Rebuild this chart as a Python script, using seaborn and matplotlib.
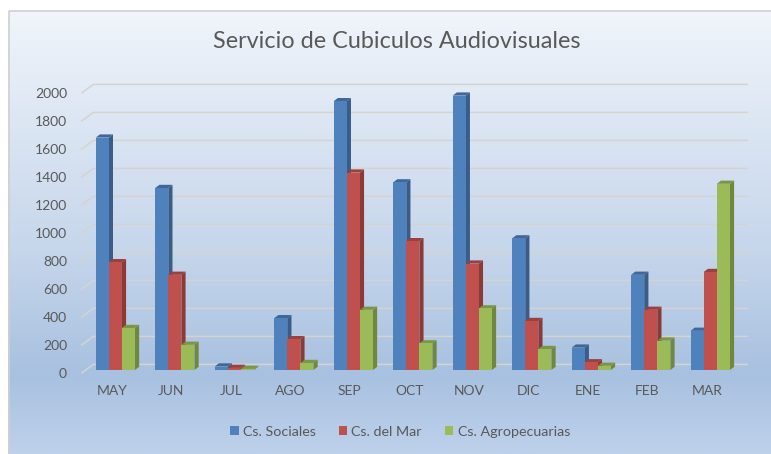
import numpy as np
import pandas as pd
import matplotlib
matplotlib.use("Agg")
import matplotlib.pyplot as plt
import seaborn as sns
from matplotlib.patches import Polygon, Rectangle
from matplotlib.lines import Line2D
from matplotlib.transforms import IdentityTransform, ScaledTranslation
from matplotlib.colors import to_rgb

# data
months = ["MAY", "JUN", "JUL", "AGO", "SEP", "OCT", "NOV", "DIC", "ENE", "FEB", "MAR"]
sociales = [1660, 1300, 25, 370, 1920, 1340, 1960, 940, 160, 680, 280]
del_mar = [770, 680, 15, 220, 1410, 920, 760, 350, 55, 430, 700]
agro = [300, 180, 8, 50, 430, 190, 440, 150, 30, 210, 1330]
series = ["Cs. Sociales", "Cs. del Mar", "Cs. Agropecuarias"]
colors = ["#4f81bd", "#c0504d", "#9bbb59"]
yticks = list(range(0, 2001, 200))

df = pd.DataFrame({
    "Mes": months * 3,
    "Valor": sociales + del_mar + agro,
    "Serie": [s for s in series for _ in months],
})

sns.set_style("white")
plt.rcParams['font.family'] = ['Lato', 'DejaVu Sans']
txt = "#595959"

W, H = 771, 454
fig = plt.figure(figsize=(W / 100, H / 100), dpi=100, facecolor="white")

# background gradient + border
bg = fig.add_axes([0, 0, 1, 1], zorder=-10)
bg.set_xlim(0, W)
bg.set_ylim(H, 0)
bg.axis("off")
stops_y = [10, 100, 250, 375, 454]
stops_c = np.array([(241, 245, 251), (224, 233, 245), (198, 214, 235),
                    (168, 193, 224), (190, 209, 235)]) / 255
ys = np.linspace(10, H, 300)
grad = np.stack([np.interp(ys, stops_y, stops_c[:, k]) for k in range(3)], axis=-1)
bg.imshow(grad[:, None, :], extent=(8, W, H, 10), aspect="auto", interpolation="bilinear")
bg.add_patch(Rectangle((8.5, 10.5), W, H, fill=False, edgecolor="#d0d0d0", lw=1.2))

# main plot (bar plane)
ax = fig.add_axes([85.6 / W, (H - 370) / H, (740 - 85.6) / W, 280 / H])
ax.patch.set_alpha(0)
sns.barplot(data=df, x="Mes", y="Valor", hue="Serie", order=months,
            hue_order=series, palette=colors, width=0.66, gap=0,
            saturation=1, linewidth=0, legend=False, ax=ax)
ax.set_xlim(-0.5, 10.5)
ax.set_ylim(0, 2000)
for s in ax.spines.values():
    s.set_visible(False)
ax.set_xlabel("")
ax.set_ylabel("")
ax.set_yticks(yticks)
ax.set_yticklabels([str(v) for v in yticks])
ax.tick_params(axis="y", length=0, pad=13.4, labelsize=10, labelcolor=txt)
ax.tick_params(axis="x", length=0, pad=11, labelsize=10, labelcolor=txt)
off_y = ScaledTranslation(0, -3 / 100, fig.dpi_scale_trans)
for lab in ax.get_yticklabels():
    lab.set_transform(lab.get_transform() + off_y)
off_x = ScaledTranslation(-3.5 / 100, 0, fig.dpi_scale_trans)
for lab in ax.get_xticklabels():
    lab.set_transform(lab.get_transform() + off_x)

T = ax.transData.transform
ident = IdentityTransform()

# 3d walls gridlines
x0d = T((-0.5, 0))[0]
x1d = T((10.5, 0))[0]
for v in yticks:
    yd = T((0, v))[1]
    ax.add_line(Line2D([x0d - 3.9, x0d + 7.7, x1d + 7.7],
                       [yd - 3, yd + 5.6, yd + 5.6],
                       transform=ident, color="#d6d3cf", lw=1.1,
                       zorder=0.5, clip_on=False))

# 3d bar faces
dx, dy = 4.2, 3.2
for p in list(ax.patches):
    x0 = p.get_x()
    w = p.get_width()
    h = p.get_height()
    c = np.array(to_rgb(p.get_facecolor()))
    tl = T((x0, h))
    tr = T((x0 + w, h))
    br = T((x0 + w, 0))
    side = Polygon([br, tr, tr + [dx, dy], br + [dx, dy]], closed=True,
                   transform=ident, facecolor=c * 0.72, lw=0, zorder=2.5,
                   clip_on=False)
    top = Polygon([tl, tr, tr + [dx, dy], tl + [dx, dy]], closed=True,
                  transform=ident, facecolor=c * 0.8, lw=0, zorder=2.5,
                  clip_on=False)
    ax.add_patch(side)
    ax.add_patch(top)
    p.set_zorder(3)

fig.text(397 / W, 1 - 42 / H, "Servicio de Cubiculos Audiovisuales",
         ha="center", va="center", fontsize=16.8, color=txt)

handles = [Rectangle((0, 0), 1, 1, facecolor=c, lw=0) for c in colors]
fig.legend(handles, series, loc="center", bbox_to_anchor=(400 / W, 1 - 432 / H),
           ncol=3, frameon=False, fontsize=10.3, labelcolor=txt,
           handlelength=0.6, handleheight=0.6, handletextpad=0.3, columnspacing=1.6)

fig.savefig("out.png", dpi=100, facecolor="white")
